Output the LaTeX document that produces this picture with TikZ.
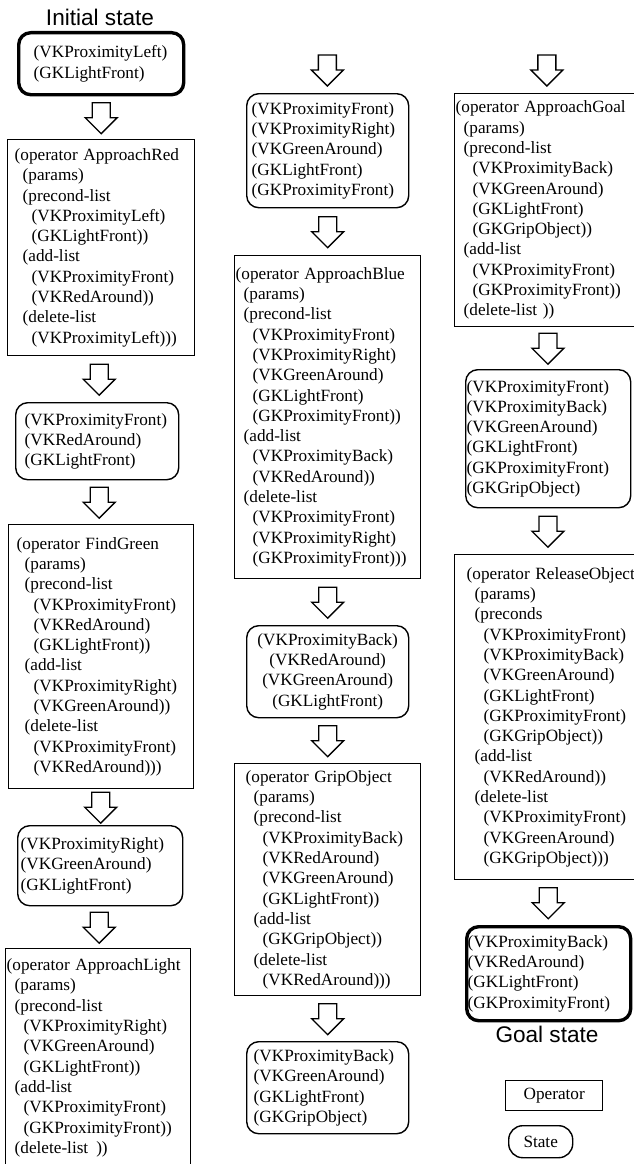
\documentclass[tikz,border=0pt]{standalone}
\usepackage{fontspec}
\setmainfont{Liberation Serif}
\newfontfamily\labelsans{Liberation Sans}
\usetikzlibrary{calc}

\newcommand\indA{\hspace*{8pt}}
\newcommand\indB{\hspace*{17pt}}
\hyphenpenalty=10000
\exhyphenpenalty=10000

\tikzset{
  every node/.style={font=\fontsize{17.2pt}{20.3pt}\selectfont},
  geom/.code n args={3}{%
    \pgfmathsetmacro\boxtw{#1-2*#3}%
    \pgfkeysalso{minimum width=#1pt, minimum height=#2pt, inner xsep=#3pt, text width/.expanded={\boxtw pt}}%
  },
  boxbase/.style={draw=black, fill=white, anchor=north west, align=left, inner ysep=0pt, line width=1.4pt},
  opbox/.style={boxbase, rectangle},
  stbox/.style={boxbase, rounded corners=12pt},
  stthick/.style={boxbase, rounded corners=12pt, line width=3.4pt},
  sanslabel/.style={font=\labelsans\fontsize{22.6pt}{26pt}\selectfont, inner sep=0pt},
  downarrow/.pic={\draw[line width=1.3pt, fill=white, line join=miter]
    (-9,-15) -- (-9,0) -- (-16,0) -- (0,16) -- (16,0) -- (9,0) -- (9,-15) -- cycle;}
}

\begin{document}
\begin{tikzpicture}[x=1pt,y=-1pt]
\path[use as bounding box] (0,0) rectangle (634,1164);
\clip (0,0) rectangle (634,1164);
\fill[white] (0,0) rectangle (634,1164);

% ---------------- column 1 ----------------
\node[sanslabel] (initlabel) at (100,17) {Initial state};
\node[stthick, geom={165}{62}{15}] (S1) at (17,31)
  {(VKProximityLeft)\\(GKLightFront)};
\node[opbox, geom={187}{216}{7}] (O1) at (7,139)
  {(operator~ApproachRed\\
   \indA(params)\\
   \indA(precond-list\\
   \indB(VKProximityLeft)\\
   \indB(GKLightFront))\\
   \indA(add-list\\
   \indB(VKProximityFront)\\
   \indB(VKRedAround))\\
   \indA(delete-list\\
   \indB(VKProximityLeft)))};
\node[stbox, geom={163}{77}{9}] (S2) at (15,402)
  {(VKProximityFront)\\(VKRedAround)\\(GKLightFront)};
\node[opbox, geom={185}{264}{8}] (O2) at (8,524)
  {(operator~FindGreen\\
   \indA(params)\\
   \indA(precond-list\\
   \indB(VKProximityFront)\\
   \indB(VKRedAround)\\
   \indB(GKLightFront))\\
   \indA(add-list\\
   \indB(VKProximityRight)\\
   \indB(VKGreenAround))\\
   \indA(delete-list\\
   \indB(VKProximityFront)\\
   \indB(VKRedAround)))};
\node[stbox, geom={165}{80}{3}] (S3) at (17,825)
  {(VKProximityRight)\\(VKGreenAround)\\(GKLightFront)};
\node[opbox, geom={185}{0}{1}, inner ysep=10pt] (O3) at (5,948)
  {(operator~ApproachLight\\
   \indA(params)\\
   \indA(precond-list\\
   \indB(VKProximityRight)\\
   \indB(VKGreenAround)\\
   \indB(GKLightFront))\\
   \indA(add-list\\
   \indB(VKProximityFront)\\
   \indB(GKProximityFront))\\
   \indA(delete-list\hspace{8pt}))\\[80pt]};

% ---------------- column 2 ----------------
\coordinate (c2in) at (327,47);
\node[stbox, geom={162}{114}{5}] (S4) at (246,93)
  {(VKProximityFront)\\(VKProximityRight)\\(VKGreenAround)\\(GKLightFront)\\(GKProximityFront)};
\node[opbox, geom={186}{323}{1}] (O4) at (234,255)
  {(operator~ApproachBlue\\
   \indA(params)\\
   \indA(precond-list\\
   \indB(VKProximityFront)\\
   \indB(VKProximityRight)\\
   \indB(VKGreenAround)\\
   \indB(GKLightFront)\\
   \indB(GKProximityFront))\\
   \indA(add-list\\
   \indB(VKProximityBack)\\
   \indB(VKRedAround))\\
   \indA(delete-list\\
   \indB(VKProximityFront)\\
   \indB(VKProximityRight)\\
   \indB(GKProximityFront)))};
\node[stbox, geom={162}{92}{5}, align=center] (S5) at (246,625)
  {(VKProximityBack)\\(VKRedAround)\\(VKGreenAround)\\(GKLightFront)};
\node[opbox, geom={186}{232}{11}] (O5) at (234,763)
  {(operator~GripObject\\
   \indA(params)\\
   \indA(precond-list\\
   \indB(VKProximityBack)\\
   \indB(VKRedAround)\\
   \indB(VKGreenAround)\\
   \indB(GKLightFront))\\
   \indA(add-list\\
   \indB(GKGripObject))\\
   \indA(delete-list\\
   \indB(VKRedAround)))};
\node[stbox, geom={162}{92}{7}] (S6) at (246,1041)
  {(VKProximityBack)\\(VKGreenAround)\\(GKLightFront)\\(GKGripObject)};

% ---------------- column 3 ----------------
\coordinate (c3in) at (546,47);
\node[opbox, geom={186}{233}{1}] (O6) at (454,93)
  {(operator~ApproachGoal\\
   \indA(params)\\
   \indA(precond-list\\
   \indB(VKProximityBack)\\
   \indB(VKGreenAround)\\
   \indB(GKLightFront)\\
   \indB(GKGripObject))\\
   \indA(add-list\\
   \indB(VKProximityFront)\\
   \indB(GKProximityFront))\\
   \indA(delete-list~))};
\node[stbox, geom={165}{138}{1}] (S7) at (465,369)
  {(VKProximityFront)\\(VKProximityBack)\\(VKGreenAround)\\(GKLightFront)\\(GKProximityFront)\\(GKGripObject)};
\node[opbox, geom={186}{325}{12}] (O7) at (454,554)
  {(operator~ReleaseObject\\
   \indA(params)\\
   \indA(preconds\\
   \indB(VKProximityFront)\\
   \indB(VKProximityBack)\\
   \indB(VKGreenAround)\\
   \indB(GKLightFront)\\
   \indB(GKProximityFront)\\
   \indB(GKGripObject))\\
   \indA(add-list\\
   \indB(VKRedAround))\\
   \indA(delete-list\\
   \indB(VKProximityFront)\\
   \indB(VKGreenAround)\\
   \indB(GKGripObject)))};
\node[stthick, geom={164}{94}{1}] (G) at (465,925)
  {(VKProximityBack)\\(VKRedAround)\\(GKLightFront)\\(GKProximityFront)};
\node[sanslabel] (goallabel) at (547,1034) {Goal state};

% legend
\node[opbox, geom={97}{30}{0}, align=center] (legop) at (505,1080) {Operator};
\node[stbox, geom={64}{32}{0}, align=center, rounded corners=14pt] (legst) at (508,1125) {State};

% ---------------- arrows ----------------
\pic at ($(S1.south)!0.5!(O1.north)$) {downarrow};
\pic at ($(O1.south)!0.5!(S2.north)$) {downarrow};
\pic at ($(S2.south)!0.5!(O2.north)$) {downarrow};
\pic at ($(O2.south)!0.5!(S3.north)$) {downarrow};
\pic at ($(S3.south)!0.5!(O3.north)$) {downarrow};
\pic at ($(c2in)!0.5!(S4.north)$) {downarrow};
\pic at ($(S4.south)!0.5!(O4.north)$) {downarrow};
\pic at ($(O4.south)!0.5!(S5.north)$) {downarrow};
\pic at ($(S5.south)!0.5!(O5.north)$) {downarrow};
\pic at ($(O5.south)!0.5!(S6.north)$) {downarrow};
\pic at ($(c3in)!0.5!(O6.north)$) {downarrow};
\pic at ($(O6.south)!0.5!(S7.north)$) {downarrow};
\pic at ($(S7.south)!0.5!(O7.north)$) {downarrow};
\pic at ($(O7.south)!0.5!(G.north)$) {downarrow};
\end{tikzpicture}
\end{document}
